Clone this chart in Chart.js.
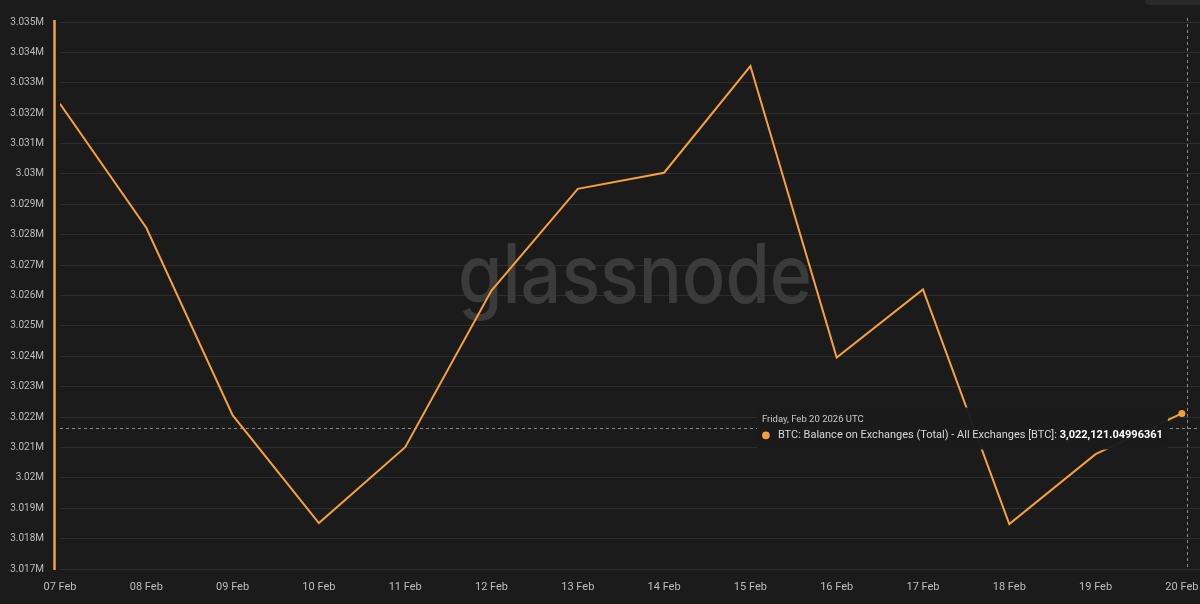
<!DOCTYPE html>
<html><head><meta charset="utf-8">
<script src="https://cdn.jsdelivr.net/npm/chart.js@4.4.1/dist/chart.umd.min.js"></script>
<style>html,body{margin:0;padding:0;background:#1b1b1b;overflow:hidden}#wrap{position:relative;width:1200px;height:604px;}</style>
</head><body><div id="wrap"><canvas id="c" width="1200" height="604"></canvas></div>
<script>
const dateLabels = ['07 Feb','08 Feb','09 Feb','10 Feb','11 Feb','12 Feb','13 Feb','14 Feb','15 Feb','16 Feb','17 Feb','18 Feb','19 Feb','20 Feb'];
const balanceBTC = [3032310, 3028230, 3022060, 3018510, 3021010, 3026160, 3029510, 3030040, 3033550, 3023960, 3026200, 3018480, 3020780, 3022121.04996361];
const yTickValues = [3017000,3018000,3019000,3020000,3021000,3022000,3023000,3024000,3025000,3026000,3027000,3028000,3029000,3030000,3031000,3032000,3033000,3034000,3035000];
const yTickLabels = ['3.017M','3.018M','3.019M','3.02M','3.021M','3.022M','3.023M','3.024M','3.025M','3.026M','3.027M','3.028M','3.029M','3.03M','3.031M','3.032M','3.033M','3.034M','3.035M'];
const seriesName = 'BTC: Balance on Exchanges (Total) - All Exchanges [BTC]: ';
const tooltipTitle = 'Friday, Feb 20 2026 UTC';
const tooltipValue = '3,022,121.04996361';
const crosshairY = 3021630;
const crosshairX = 13.06;

const ORANGE = '#f7a13a';
const FONT = 'Roboto, "Liberation Sans", Arial, sans-serif';

const overlay = {
  id: 'overlay',
  beforeDatasetsDraw(chart) {
    const {ctx, chartArea: a, scales: {x, y}} = chart;
    ctx.save();
    // watermark
    ctx.fillStyle = '#3b3b3b';
    ctx.font = '500 82px Inter, ' + FONT;
    const txt = 'glassnode';
    const w = ctx.measureText(txt).width;
    const target = 354;
    ctx.translate(458, 303);
    ctx.scale(target / w, 1);
    ctx.textBaseline = 'alphabetic';
    ctx.fillText(txt, 0, 0);
    ctx.restore();
    ctx.save();
    // crosshairs
    ctx.strokeStyle = '#8a8a8a';
    ctx.lineWidth = 1;
    ctx.setLineDash([3, 3]);
    const cy = Math.round(y.getPixelForValue(crosshairY)) + 0.5;
    ctx.beginPath(); ctx.moveTo(a.left, cy); ctx.lineTo(a.right, cy); ctx.stroke();
    const cx = Math.round(x.getPixelForValue(crosshairX)) + 0.5;
    ctx.beginPath(); ctx.moveTo(cx, a.top - 4); ctx.lineTo(cx, a.bottom); ctx.stroke();
    ctx.setLineDash([]);
    // left orange marker line
    ctx.strokeStyle = ORANGE;
    ctx.lineWidth = 2.5;
    ctx.beginPath(); ctx.moveTo(a.left - 5.5, a.top - 2); ctx.lineTo(a.left - 5.5, a.bottom + 1); ctx.stroke();
    // top-right bar
    ctx.fillStyle = '#2a2a2a';
    ctx.beginPath();
    if (ctx.roundRect) ctx.roundRect(1145, -6, 70, 11, 5); else ctx.rect(1145, -6, 70, 11);
    ctx.fill();
    ctx.restore();
  },
  afterDatasetsDraw(chart) {
    const {ctx, scales: {x, y}} = chart;
    const last = balanceBTC.length - 1;
    const px = x.getPixelForValue(last), py = y.getPixelForValue(balanceBTC[last]);
    ctx.save();
    // tooltip box
    const bx = px - 425, by = py - 6, bw = 411, bh = 42;
    ctx.fillStyle = 'rgba(27,27,27,0.97)';
    ctx.beginPath();
    if (ctx.roundRect) ctx.roundRect(bx, by, bw, bh, 4); else ctx.rect(bx, by, bw, bh);
    ctx.fill();
    ctx.textBaseline = 'middle';
    ctx.fillStyle = '#c9c9c9';
    ctx.font = '9.5px ' + FONT;
    ctx.fillText(tooltipTitle, bx + 5, by + 12);
    ctx.fillStyle = ORANGE;
    ctx.beginPath(); ctx.arc(bx + 9, by + 28, 3.8, 0, Math.PI * 2); ctx.fill();
    ctx.fillStyle = '#d8d8d8';
    ctx.font = '11px ' + FONT;
    ctx.fillText(seriesName, bx + 21, by + 28);
    const sw = ctx.measureText(seriesName).width;
    ctx.fillStyle = '#ffffff';
    ctx.font = 'bold 11px ' + FONT;
    ctx.fillText(tooltipValue, bx + 21 + sw, by + 28);
    // end point
    ctx.fillStyle = ORANGE;
    ctx.beginPath(); ctx.arc(px, py, 3.5, 0, Math.PI * 2); ctx.fill();
    ctx.restore();
  }
};

new Chart(document.getElementById('c'), {
  type: 'line',
  data: {
    datasets: [{
      data: balanceBTC.map((v, i) => ({x: i, y: v})),
      borderColor: ORANGE,
      borderWidth: 2,
      pointRadius: 0,
      tension: 0,
      fill: false
    }]
  },
  options: {
    responsive: false,
    devicePixelRatio: 1,
    animation: false,
    layout: {padding: {top: 21, right: 0, left: 0, bottom: 0}},
    plugins: {legend: {display: false}, tooltip: {enabled: false}},
    scales: {
      x: {
        type: 'linear', min: 0, max: 13.21,
        afterBuildTicks(s) { s.ticks = dateLabels.map((_, i) => ({value: i})); },
        afterFit(s) { s.height = 35; s.paddingRight = 0; s.paddingLeft = 0; },
        ticks: {
          callback: (v) => dateLabels[v],
          color: '#bdbdbd', font: {size: 11, family: FONT}, padding: 12,
          maxRotation: 0, autoSkip: false
        },
        grid: {display: false, drawTicks: false},
        border: {display: false}
      },
      y: {
        min: yTickValues[0], max: yTickValues[yTickValues.length - 1],
        afterBuildTicks(s) { s.ticks = yTickValues.map(v => ({value: v})); },
        afterFit(s) { s.width = 60; },
        ticks: {
          callback: (v) => yTickLabels[yTickValues.indexOf(v)],
          color: '#bdbdbd', font: {size: 10, family: FONT}, padding: 16
        },
        grid: {color: '#2e2e2e', lineWidth: 1, drawTicks: false},
        border: {display: false}
      }
    }
  },
  plugins: [overlay]
});
</script>
</body></html>
